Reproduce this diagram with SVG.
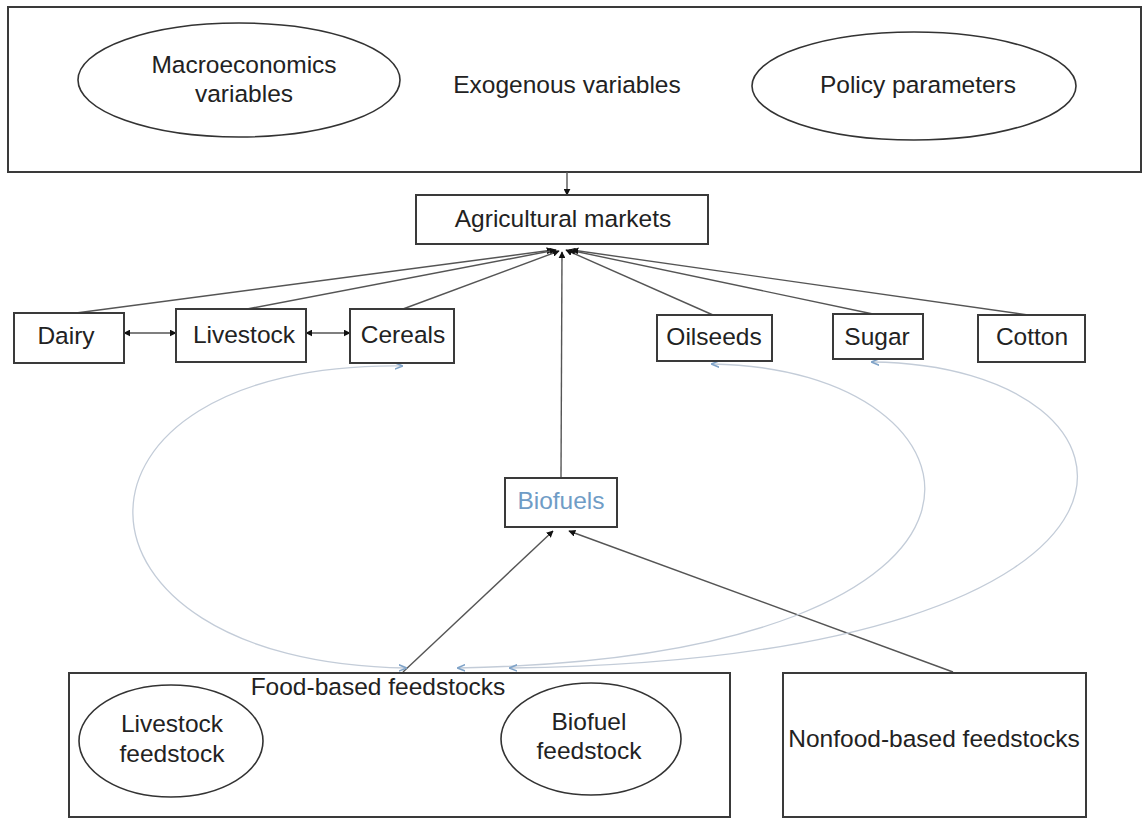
<svg xmlns="http://www.w3.org/2000/svg" width="1145" height="819" viewBox="0 0 1145 819">
  <defs>
    <marker id="arr" viewBox="0 0 10 10" refX="9" refY="5" markerWidth="7" markerHeight="7" markerUnits="userSpaceOnUse" orient="auto-start-reverse">
      <path d="M0,0 L10,5 L0,10 z" fill="#111"/>
    </marker>
    <marker id="arrBlue" viewBox="0 0 10 10" refX="9" refY="5" markerWidth="8" markerHeight="8" markerUnits="userSpaceOnUse" orient="auto-start-reverse">
      <path d="M0,1 L10,5 L0,9" fill="none" stroke="#7fa3c8" stroke-width="2"/>
    </marker>
    <style>
      .box { fill: #fff; stroke: #3a3a3a; stroke-width: 2; }
      .ell { fill: #fff; stroke: #333; stroke-width: 1.6; }
      .lbl { font-family: "Liberation Sans", Arial, sans-serif; font-size: 24.5px; fill: #222; text-anchor: middle; }
      .blue { fill: #6f9cc6; }
      .link { fill: none; stroke: #555; stroke-width: 1.4; }
      .loop { fill: none; stroke: #c3ccd8; stroke-width: 1.3; }
    </style>
  </defs>

  <!-- exogenous block -->
  <g id="exogenous">
    <rect class="box" x="8" y="7" width="1133" height="165"/>
    <text class="lbl" x="567" y="93">Exogenous variables</text>
  </g>
  <g id="macro">
    <ellipse class="ell" cx="239" cy="80" rx="161" ry="57"/>
    <text class="lbl" x="244" y="73">Macroeconomics</text>
    <text class="lbl" x="244" y="102">variables</text>
  </g>
  <g id="policy">
    <ellipse class="ell" cx="914" cy="86" rx="162" ry="54"/>
    <text class="lbl" x="918" y="93">Policy parameters</text>
  </g>

  <!-- connectors -->
  <g id="connectors">
    <line class="link" x1="567" y1="172" x2="567" y2="195" marker-end="url(#arr)"/>
    <line class="link" x1="76" y1="313" x2="553" y2="250" marker-end="url(#arr)"/>
    <line class="link" x1="247" y1="309" x2="556" y2="250" marker-end="url(#arr)"/>
    <line class="link" x1="403" y1="309" x2="559" y2="251" marker-end="url(#arr)"/>
    <line class="link" x1="561" y1="478" x2="562" y2="252" marker-end="url(#arr)"/>
    <line class="link" x1="713" y1="315" x2="566" y2="250" marker-end="url(#arr)"/>
    <line class="link" x1="873" y1="314" x2="569" y2="250" marker-end="url(#arr)"/>
    <line class="link" x1="1028" y1="315" x2="572" y2="250" marker-end="url(#arr)"/>
    <line class="link" x1="124" y1="333" x2="176" y2="333" marker-start="url(#arr)" marker-end="url(#arr)"/>
    <line class="link" x1="306" y1="333" x2="350" y2="333" marker-start="url(#arr)" marker-end="url(#arr)"/>
    <line class="link" x1="403" y1="672" x2="553" y2="531" marker-end="url(#arr)"/>
    <line class="link" x1="953" y1="672" x2="569" y2="531" marker-end="url(#arr)"/>
    <line class="link" x1="263" y1="749" x2="502" y2="749" marker-start="url(#arr)" marker-end="url(#arr)"/>
    <path class="loop" d="M402,366 C40,362 45,663 406,668" marker-start="url(#arrBlue)" marker-end="url(#arrBlue)"/>
    <path class="loop" d="M712,364 C1000,368 1066,656 458,668" marker-start="url(#arrBlue)" marker-end="url(#arrBlue)"/>
    <path class="loop" d="M872,362 C1170,365 1217,659 510,668" marker-start="url(#arrBlue)" marker-end="url(#arrBlue)"/>
  </g>

  <g id="agri">
    <rect class="box" x="416" y="195" width="292" height="49"/>
    <text class="lbl" x="563" y="227">Agricultural markets</text>
  </g>
  <g id="dairy">
    <rect class="box" x="14" y="313" width="110" height="50"/>
    <text class="lbl" x="66" y="344">Dairy</text>
  </g>
  <g id="livestock">
    <rect class="box" x="176" y="309" width="130" height="53"/>
    <text class="lbl" x="244" y="343">Livestock</text>
  </g>
  <g id="cereals">
    <rect class="box" x="350" y="309" width="104" height="54"/>
    <text class="lbl" x="403" y="343">Cereals</text>
  </g>
  <g id="oilseeds">
    <rect class="box" x="657" y="315" width="115" height="46"/>
    <text class="lbl" x="714" y="345">Oilseeds</text>
  </g>
  <g id="sugar">
    <rect class="box" x="833" y="314" width="90" height="45"/>
    <text class="lbl" x="877" y="345">Sugar</text>
  </g>
  <g id="cotton">
    <rect class="box" x="978" y="315" width="107" height="47"/>
    <text class="lbl" x="1032" y="345">Cotton</text>
  </g>
  <g id="biofuels">
    <rect class="box" x="505" y="478" width="112" height="49"/>
    <text class="lbl blue" x="561" y="509">Biofuels</text>
  </g>

  <g id="food-based">
    <rect class="box" x="69" y="673" width="661" height="144"/>
    <text class="lbl" x="378" y="695">Food-based feedstocks</text>
  </g>
  <g id="livestock-feedstock">
    <ellipse class="ell" cx="171" cy="741" rx="92" ry="56"/>
    <text class="lbl" x="172" y="732">Livestock</text>
    <text class="lbl" x="172" y="762">feedstock</text>
  </g>
  <g id="biofuel-feedstock">
    <ellipse class="ell" cx="591" cy="739" rx="90" ry="56"/>
    <text class="lbl" x="589" y="730">Biofuel</text>
    <text class="lbl" x="589" y="759">feedstock</text>
  </g>
  <g id="nonfood">
    <rect class="box" x="783" y="673" width="303" height="144"/>
    <text class="lbl" x="934" y="747">Nonfood-based feedstocks</text>
  </g>
</svg>
